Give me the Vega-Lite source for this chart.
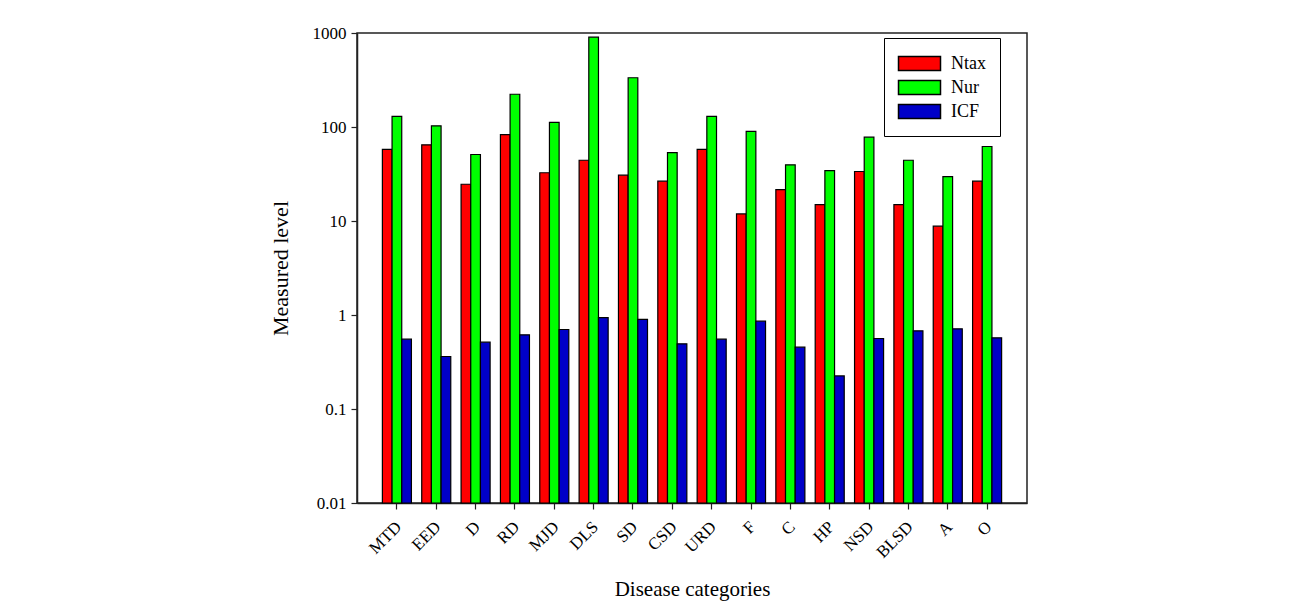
{
  "$schema": "https://vega.github.io/schema/vega-lite/v6.json",
  "autosize": {"type": "none"},
  "padding": {"left": 357, "top": 33, "right": 262, "bottom": 99},
  "width": 670,
  "height": 470,
  "background": "white",
  "config": {
    "font": "Liberation Serif",
    "view": {"stroke": "#222", "strokeWidth": 1.5},
    "axis": {"grid": false, "domainColor": "#222", "domainWidth": 1.5, "tickColor": "#222", "tickWidth": 1.2, "labelColor": "black", "titleColor": "black", "labelFont": "Liberation Serif", "titleFont": "Liberation Serif", "titleFontWeight": "normal"}
  },
  "data": {
    "values": [
      {"cat": "MTD", "series": "Ntax", "v": 57.7}, {"cat": "MTD", "series": "Nur", "v": 130}, {"cat": "MTD", "series": "ICF", "v": 0.553},
      {"cat": "EED", "series": "Ntax", "v": 64.7}, {"cat": "EED", "series": "Nur", "v": 103}, {"cat": "EED", "series": "ICF", "v": 0.362},
      {"cat": "D", "series": "Ntax", "v": 24.6}, {"cat": "D", "series": "Nur", "v": 51}, {"cat": "D", "series": "ICF", "v": 0.514},
      {"cat": "RD", "series": "Ntax", "v": 83}, {"cat": "RD", "series": "Nur", "v": 223}, {"cat": "RD", "series": "ICF", "v": 0.615},
      {"cat": "MJD", "series": "Ntax", "v": 32.6}, {"cat": "MJD", "series": "Nur", "v": 112}, {"cat": "MJD", "series": "ICF", "v": 0.701},
      {"cat": "DLS", "series": "Ntax", "v": 44.3}, {"cat": "DLS", "series": "Nur", "v": 902}, {"cat": "DLS", "series": "ICF", "v": 0.94},
      {"cat": "SD", "series": "Ntax", "v": 30.7}, {"cat": "SD", "series": "Nur", "v": 334}, {"cat": "SD", "series": "ICF", "v": 0.9},
      {"cat": "CSD", "series": "Ntax", "v": 26.5}, {"cat": "CSD", "series": "Nur", "v": 53.5}, {"cat": "CSD", "series": "ICF", "v": 0.493},
      {"cat": "URD", "series": "Ntax", "v": 57.7}, {"cat": "URD", "series": "Nur", "v": 130}, {"cat": "URD", "series": "ICF", "v": 0.553},
      {"cat": "F", "series": "Ntax", "v": 11.9}, {"cat": "F", "series": "Nur", "v": 90}, {"cat": "F", "series": "ICF", "v": 0.859},
      {"cat": "C", "series": "Ntax", "v": 21.6}, {"cat": "C", "series": "Nur", "v": 39.6}, {"cat": "C", "series": "ICF", "v": 0.455},
      {"cat": "HP", "series": "Ntax", "v": 14.9}, {"cat": "HP", "series": "Nur", "v": 34.4}, {"cat": "HP", "series": "ICF", "v": 0.225},
      {"cat": "NSD", "series": "Ntax", "v": 33.6}, {"cat": "NSD", "series": "Nur", "v": 78}, {"cat": "NSD", "series": "ICF", "v": 0.562},
      {"cat": "BLSD", "series": "Ntax", "v": 14.9}, {"cat": "BLSD", "series": "Nur", "v": 44.3}, {"cat": "BLSD", "series": "ICF", "v": 0.679},
      {"cat": "A", "series": "Ntax", "v": 8.8}, {"cat": "A", "series": "Nur", "v": 29.7}, {"cat": "A", "series": "ICF", "v": 0.713},
      {"cat": "O", "series": "Ntax", "v": 26.5}, {"cat": "O", "series": "Nur", "v": 62}, {"cat": "O", "series": "ICF", "v": 0.572}
    ]
  },
  "mark": {"type": "bar", "stroke": "black", "strokeWidth": 1.2},
  "encoding": {
    "x": {
      "field": "cat", "type": "nominal", "sort": null,
      "scale": {"paddingInner": 0.262, "paddingOuter": 0.645},
      "axis": {"title": "Disease categories", "titleFontSize": 21, "titlePadding": 18, "labelAngle": -45, "labelAlign": "right", "labelBaseline": "middle", "labelFontSize": 17, "tickSize": 6, "labelPadding": 15, "labelOffset": 2}
    },
    "xOffset": {"field": "series", "type": "nominal", "sort": ["Ntax", "Nur", "ICF"], "scale": {"paddingInner": 0, "paddingOuter": 0}},
    "y": {
      "field": "v", "type": "quantitative",
      "scale": {"type": "log", "domain": [0.01, 1000], "nice": false},
      "axis": {"title": "Measured level", "titleFontSize": 22, "titlePadding": 20, "values": [0.01, 0.1, 1, 10, 100, 1000], "format": "~g", "labelFontSize": 17, "tickSize": 6, "labelPadding": 5}
    },
    "y2": {"datum": 0.01},
    "color": {
      "field": "series", "type": "nominal",
      "scale": {"domain": ["Ntax", "Nur", "ICF"], "range": ["#FF0000", "#00FF00", "#0000C8"]},
      "legend": {
        "title": null, "orient": "none", "legendX": 527, "legendY": 5,
        "symbolType": "M-2,-0.66H2V0.66H-2Z", "symbolSize": 441, "symbolStrokeColor": "black", "symbolStrokeWidth": 1.5, "symbolOpacity": 1, "symbolOffset": 10,
        "labelFont": "Liberation Serif", "labelFontSize": 18, "labelColor": "black", "labelOffset": 20,
        "strokeColor": "black", "fillColor": "white", "padding": 14, "rowPadding": 2
      }
    }
  }
}
